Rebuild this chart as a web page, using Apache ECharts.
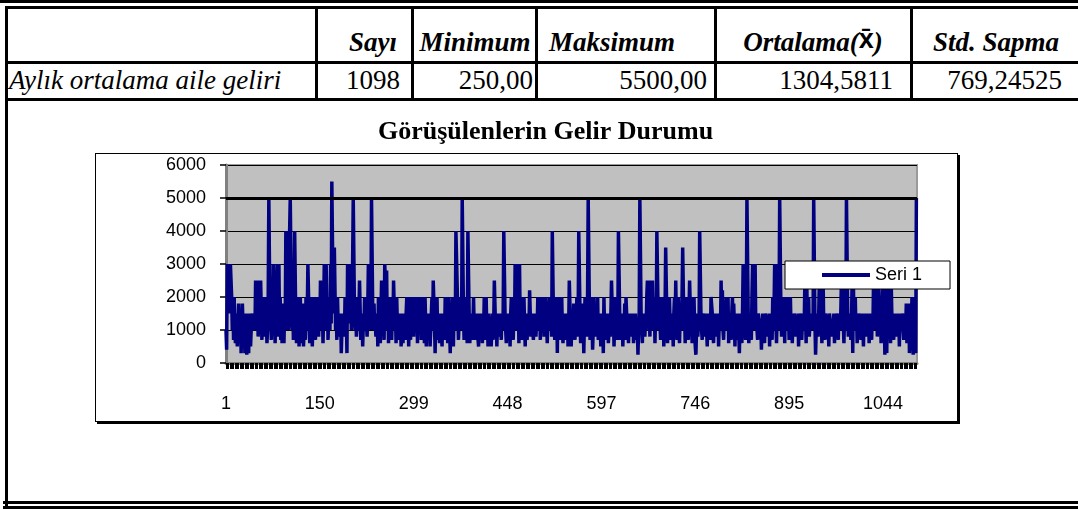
<!DOCTYPE html>
<html>
<head>
<meta charset="utf-8">
<script src="https://cdn.jsdelivr.net/npm/echarts@6/dist/echarts.min.js"></script>
<style>
body{margin:0;background:#fff;width:1078px;height:509px;overflow:hidden;position:relative;font-family:"Liberation Serif",serif;}
.ln{position:absolute;background:#000;}
.tx{position:absolute;font-size:27px;line-height:27px;white-space:nowrap;color:#000;}
.hd{font-weight:bold;font-style:italic;text-align:center;width:200px;}
.vl{text-align:right;width:200px;}
.xbar{font-style:normal;font-family:"Liberation Sans",sans-serif;font-size:27px;position:relative;top:-3px;}
#frame{position:absolute;left:95px;top:153px;width:861px;height:267px;border:1px solid #000;box-shadow:2px 2px 0 #000;}
#chart{position:absolute;left:0;top:0;width:1078px;height:509px;}
</style>
</head>
<body>
<!-- tablo cizgileri -->
<div class="ln" style="left:0;top:0;width:1078px;height:3px"></div>
<div class="ln" style="left:5px;top:6px;width:1073px;height:3px"></div>
<div class="ln" style="left:5px;top:6px;width:3px;height:500px"></div>
<div class="ln" style="left:5px;top:61px;width:1073px;height:3px"></div>
<div class="ln" style="left:5px;top:98px;width:1073px;height:3px"></div>
<div class="ln" style="left:315px;top:6px;width:3px;height:95px"></div>
<div class="ln" style="left:411px;top:6px;width:3px;height:95px"></div>
<div class="ln" style="left:535px;top:6px;width:3px;height:95px"></div>
<div class="ln" style="left:714px;top:6px;width:3px;height:95px"></div>
<div class="ln" style="left:910px;top:6px;width:3px;height:95px"></div>
<div class="ln" style="left:3px;top:501px;width:1075px;height:3px"></div>
<div class="ln" style="left:3px;top:506px;width:1075px;height:3px"></div>

<!-- baslik satiri (orta noktaya gore) -->
<div class="tx hd" style="left:273px;top:29px">Sayı</div>
<div class="tx hd" style="left:375px;top:29px">Minimum</div>
<div class="tx hd" style="left:512px;top:29px">Maksimum</div>
<div class="tx hd" style="left:713px;top:29px">Ortalama(<span class="xbar">x̄</span>)</div>
<div class="tx hd" style="left:896px;top:29px">Std. Sapma</div>

<!-- deger satiri (sag kenara gore) -->
<div class="tx" style="left:9px;top:67px;font-style:italic">Aylık ortalama aile geliri</div>
<div class="tx vl" style="left:200px;top:67px">1098</div>
<div class="tx vl" style="left:333px;top:67px">250,00</div>
<div class="tx vl" style="left:507px;top:67px">5500,00</div>
<div class="tx vl" style="left:693px;top:67px">1304,5811</div>
<div class="tx vl" style="left:862px;top:67px">769,24525</div>

<div id="frame"></div>
<div id="chart"></div>
<script>
// aylik ortalama aile geliri, 1098 gorusme (1-100, 101-200, ...)
var gelir1 = [1000,400,3000,3000,3000,3000,1500,3000,3000,2000,
1000,2000,700,2000,1000,600,1500,800,500,1200,
1800,1000,600,1500,300,1000,1800,1800,500,1200,
300,1500,800,250,1000,1500,300,1500,1000,500,
1000,1000,1500,1000,1000,1200,1000,2500,1000,1500,
2500,800,1200,2000,1000,2500,2500,700,1500,2000,
1000,800,2000,1200,1500,600,1000,2000,5000,5000,
1000,1500,700,2000,1000,3000,3000,1500,600,2000,
1000,3000,1500,800,3000,1000,2000,700,1500,600,
1000,1800,600,1500,1000,4000,4000,1200,4000,1000];
var gelir2 = [1500,4000,5000,5000,1500,1000,2000,700,1500,4000,
4000,1000,600,2000,800,1500,500,1200,2000,600,
1500,1000,1800,500,1000,1500,700,2000,1000,1500,
3000,3000,1200,600,2000,1000,1500,500,1200,2000,
1000,2000,700,1500,1000,2000,1200,800,1500,1000,
2500,2500,1000,1800,600,1500,3000,3000,1000,3000,
1500,2000,700,1500,2000,1000,3000,1200,5500,5500,
2000,1500,3500,3500,1000,1500,700,2000,1200,1500,
1500,800,1500,300,1000,1500,1500,1000,800,2000,
1000,1500,300,3000,3000,1200,3000,1500,2000,1000];
var gelir3 = [1500,3000,5000,5000,1500,1000,2000,800,1200,1000,
1800,1500,2500,2500,700,1000,1500,500,1200,1000,
2000,1500,1000,1200,800,1500,3000,3000,3000,1500,
1000,5000,5000,1500,1000,1800,1000,1200,800,1000,
1500,500,2000,1000,1200,600,1500,2500,2500,1000,
1500,700,3000,3000,2000,2800,1000,2000,600,1500,
1200,2000,1000,700,1500,1000,2500,2500,1000,1500,
600,2000,1200,1000,700,1500,1000,1200,500,1000,
1500,600,1200,1500,1000,700,1500,2000,1000,2000,
500,1200,1500,700,2000,1000,1500,2000,800,1500];
var gelir4 = [2000,1000,1500,2000,600,2000,1200,1000,2000,1500,
700,2000,1000,1500,2000,600,2000,1200,500,1500,
1000,700,1200,1500,500,1000,1500,2000,1000,2500,
2500,1200,300,1500,1000,2000,700,1500,1000,600,
1200,1500,1000,500,1500,1000,1200,700,2000,1500,
2000,1000,600,2000,1200,1000,300,1500,1000,2000,
1200,500,1500,2000,1000,4000,4000,4000,1500,700,
1200,1000,2000,1500,1000,5000,5000,1500,700,1200,
2000,800,1000,600,4000,4000,1500,600,1000,1200,
1500,700,1000,2000,1000,1500,700,1200,1500,1000];
var gelir5 = [1000,500,1500,1200,700,1000,1500,600,1200,1000,
2000,1500,700,2000,1000,1200,500,1500,1000,700,
1200,500,1000,1500,700,1200,2500,2500,1000,1500,
500,1200,1000,1500,800,1000,1200,700,1500,1000,
1500,4000,4000,1500,1000,600,1200,1500,700,1000,
1200,500,1500,2000,1000,2000,700,1500,1000,3000,
1500,3000,3000,1000,2000,600,3000,1200,1500,2000,
700,1500,1000,2000,1200,500,1500,1000,700,1200,
1500,1000,2200,2200,800,1200,1500,1000,700,1200,
1000,1500,800,1200,1000,2000,1500,1000,2000,700];
var gelir6 = [1500,2000,1000,1200,2000,800,1500,1000,2000,1200,
600,1500,1000,1200,2000,1000,1500,800,4000,4000,
1200,1000,700,2000,1500,2000,300,2000,1000,1500,
2000,700,1500,2000,1000,600,1200,1500,1000,700,
1200,1000,1500,500,1000,2500,2500,1000,500,1200,
1500,1000,1800,1000,700,1500,1000,2000,800,1200,
4000,4000,1500,600,1000,1800,1000,1500,300,1200,
2000,1000,1500,800,2000,5000,5000,1500,700,2000,
1000,1500,400,1000,2000,1200,1500,800,1500,1000,
2000,700,1500,1000,1200,500,1500,1000,1200,300];
var gelir7 = [2000,1000,1500,700,1200,1000,1500,600,1000,1200,
800,1500,2500,2500,1000,1500,500,1200,2000,1000,
1500,700,1000,4000,4000,1500,700,1200,1000,1500,
500,1200,1000,1800,700,2000,2000,1000,1500,600,
1200,1000,1500,800,1200,1000,1500,600,1000,1200,
1500,700,1000,1200,250,1000,1500,5000,5000,1500,
1000,600,1500,1000,1200,800,1500,1000,2000,2500,
1200,2500,1500,800,2500,2000,1000,2500,1500,1000,
2000,600,1500,1000,4000,4000,1500,2000,1000,1200,
700,2000,1500,1000,2000,500,1200,1500,3500,3500];
var gelir8 = [1200,600,1500,1000,2000,1200,700,1500,1000,1200,
500,1500,2000,1000,2500,1200,700,1500,2000,1000,
600,1500,1000,1200,2000,3500,3500,1000,1500,600,
2000,1200,1000,2000,700,1500,2500,2500,1000,1500,
600,2000,1200,2000,1000,500,250,1000,1500,800,
1200,1000,4000,4000,1500,1000,700,1500,1500,1500,
800,1200,1500,1000,500,1500,1500,1000,1200,700,
2000,2000,1500,1000,600,1200,1000,1500,1500,800,
1000,1500,500,1200,1500,1000,2500,1200,2200,1000,
700,1500,1200,1000,2000,1500,1000,2000,600,1500];
var gelir9 = [1000,1200,700,1500,2000,1000,1800,1200,500,1500,
1000,1200,700,1500,1000,300,1200,1500,1000,600,
1500,3000,3000,1500,1000,700,1500,5000,5000,1500,
600,1200,1000,1500,700,2000,3000,3000,1000,1500,
3000,1200,1500,1000,700,1500,1500,1500,1000,1200,
400,1000,1500,1200,1000,600,1500,1500,1500,800,
1200,1000,1500,500,1500,1000,1200,700,2000,1000,
1500,3000,3000,1200,600,1500,3000,1000,1500,5000,
5000,1500,800,1500,2000,1000,2000,600,2000,2000,
1200,1000,2000,1500,700,1200,2000,1000,1500,600];
var gelir10 = [1200,1000,1500,1500,1500,800,1200,1000,1500,500,
1200,1500,1500,1000,700,1200,1500,1000,1200,2500,
1500,600,2500,1000,1500,2000,800,1200,1500,1000,
1200,1500,1000,5000,5000,1200,250,1000,1500,1000,
800,1500,2500,1200,2500,1500,600,1500,2500,1000,
1200,700,1500,1500,1500,1000,1200,500,1500,1500,
1500,1500,800,1200,1000,1500,600,1200,1000,1500,
1500,1200,700,1500,1000,1200,1500,2500,1000,2500,
1200,600,1500,1000,1200,5000,5000,1500,800,1200,
1000,1500,700,1200,2500,300,2500,1000,1500,2000];
var gelir11 = [1000,1500,600,1200,1500,1500,1000,1200,700,1500,
1000,1200,500,1500,1000,1500,1500,800,1200,1000,
1500,600,1200,1000,1500,700,1500,1000,2500,1200,
2500,1000,1500,2500,800,1200,2500,2000,1000,1500,
600,1200,1500,2500,1000,1500,250,2500,1200,300,
2500,1500,1000,2500,1200,600,2500,1500,1000,1200,
700,1500,1000,1500,1500,800,1200,1000,1500,500,
1500,1000,1200,1500,1500,1000,700,1500,1200,1000,
1800,600,1500,1000,1800,300,1200,1500,1000,2000,
700,250,1500,2000,400,300,5000,5000];

var gelir = [].concat(gelir1, gelir2, gelir3, gelir4, gelir5, gelir6,
    gelir7, gelir8, gelir9, gelir10, gelir11);

// kategoriler: gorusme sira numarasi
var siraNo = [];
for (var i = 1; i <= gelir.length; i++) {
    siraNo.push(String(i));
}
var yTicks = [0, 1000, 2000, 3000, 4000, 5000, 6000];
var kalinCizgi = 5000;

var chart = echarts.init(document.getElementById('chart'));
chart.setOption({
    animation: false,
    title: {
        text: 'Görüşülenlerin Gelir Durumu',
        left: 373,
        top: 114,
        textStyle: {fontFamily: 'Liberation Serif', fontSize: 26, fontWeight: 'bold', color: '#000'}
    },
    legend: {
        data: ['Seri 1'],
        left: 785,
        top: 261,
        padding: [5, 28, 5, 37],
        itemWidth: 48,
        itemHeight: 4,
        icon: 'rect',
        backgroundColor: '#fff',
        borderColor: '#000',
        borderWidth: 1,
        textStyle: {fontFamily: 'Liberation Sans', fontSize: 18, color: '#000'}
    },
    grid: {
        left: 226, top: 165, width: 691, height: 198,
        show: true,
        backgroundColor: '#c0c0c0',
        borderColor: '#9a9a9a',
        borderWidth: 2
    },
    xAxis: {
        type: 'category',
        data: siraNo,
        boundaryGap: false,
        axisLine: {lineStyle: {color: '#808080', width: 3}},
        axisTick: {interval: 1, length: 6, lineStyle: {color: '#000', width: 1}},
        axisLabel: {interval: 148, margin: 32, fontFamily: 'Liberation Sans', fontSize: 18, color: '#000'}
    },
    yAxis: {
        type: 'value',
        min: yTicks[0],
        max: yTicks[yTicks.length - 1],
        interval: 1000,
        axisLine: {show: true, lineStyle: {color: '#808080', width: 3}},
        axisTick: {show: true, length: 6, lineStyle: {color: '#000', width: 1.5}},
        axisLabel: {
            margin: 20, fontFamily: 'Liberation Sans', fontSize: 18, color: '#000',
            formatter: function (v) { return String(v); }
        },
        splitLine: {lineStyle: {color: '#000', width: 1.2}}
    },
    series: [
        {
            name: 'kalin',
            type: 'line',
            data: [],
            z: 1,
            markLine: {
                silent: true,
                symbol: 'none',
                label: {show: false},
                lineStyle: {color: '#000', width: 3, type: 'solid'},
                data: [{yAxis: kalinCizgi}]
            }
        },
        {
            name: 'Seri 1',
            type: 'line',
            data: gelir,
            symbol: 'none',
            z: 3,
            lineStyle: {color: '#000080', width: 3.5},
            itemStyle: {color: '#000080'}
        }
    ]
});
</script>
</body>
</html>
